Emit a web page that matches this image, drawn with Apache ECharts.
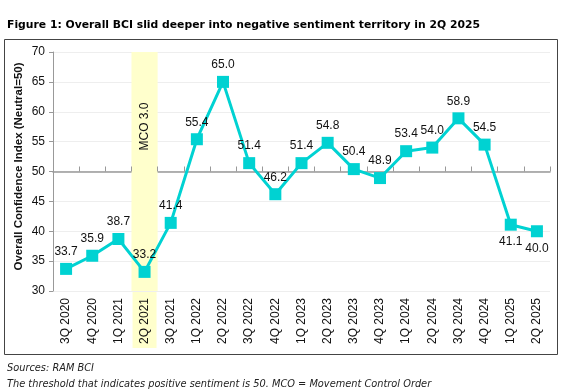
<!DOCTYPE html>
<html>
<head>
<meta charset="utf-8">
<script src="https://cdn.jsdelivr.net/npm/echarts@6/dist/echarts.min.js"></script>
<style>
html,body{margin:0;padding:0;background:#fff;}
#chart{width:569px;height:391px;}
</style>
</head>
<body>
<div id="chart"></div>
<script>
const categories = ['3Q 2020','4Q 2020','1Q 2021','2Q 2021','3Q 2021','1Q 2022','2Q 2022','3Q 2022','4Q 2022','1Q 2023','2Q 2023','3Q 2023','4Q 2023','1Q 2024','2Q 2024','3Q 2024','4Q 2024','1Q 2025','2Q 2025'];
const bciValues = [33.7, 35.9, 38.7, 33.2, 41.4, 55.4, 65.0, 51.4, 46.2, 51.4, 54.8, 50.4, 48.9, 53.4, 54.0, 58.9, 54.5, 41.1, 40.0];
const yTicks = [30, 35, 40, 45, 50, 55, 60, 65, 70];
const neutralLevel = 50;
const mcoCategory = '2Q 2021';
const mcoLabel = 'MCO 3.0';
const labelsBelow = ['1Q 2025', '2Q 2025'];

const titleText = 'Figure 1: Overall BCI slid deeper into negative sentiment territory in 2Q 2025';
const yAxisTitle = 'Overall Confidence Index (Neutral=50)';
const note1 = 'Sources: RAM BCI';
const note2 = 'The threshold that indicates positive sentiment is 50. MCO = Movement Control Order';

const yMin = yTicks[0], yMax = yTicks[yTicks.length - 1], yStep = yTicks[1] - yTicks[0];
const chart = echarts.init(document.getElementById('chart'), null, {renderer: 'canvas'});

const lineData = bciValues.map((v, i) => ({
  value: v,
  label: { position: labelsBelow.includes(categories[i]) ? 'bottom' : 'top' }
}));
const mcoData = categories.map(c => c === mcoCategory ? yMax : null);

const option = {
  animation: false,
  backgroundColor: '#fff',
  title: [
    { text: titleText, left: 2, top: 15, textStyle: { fontFamily: 'DejaVu Sans', fontWeight: 'bold', fontSize: 10.8, color: '#000' } },
    { text: note1, left: 2, top: 358, textStyle: { fontFamily: 'DejaVu Sans', fontStyle: 'italic', fontWeight: 'normal', fontSize: 9.8, color: '#222' } },
    { text: note2, left: 2, top: 374, textStyle: { fontFamily: 'DejaVu Sans', fontStyle: 'italic', fontWeight: 'normal', fontSize: 9.8, color: '#222' } }
  ],
  graphic: [
    { type: 'rect', left: 2, top: 37, shape: { width: 553, height: 315 }, style: { fill: 'none', stroke: '#444', lineWidth: 1 }, z: 100 }
  ],
  grid: { left: 53, right: 19, top: 52, bottom: 100, containLabel: false },
  xAxis: [
    {
      type: 'category', data: categories, boundaryGap: true,
      axisLine: { show: false }, axisTick: { show: false },
      axisLabel: {
        rotate: 90, margin: 1, interval: 0,
        formatter: v => v === mcoCategory ? '{hl|' + v + '}' : '{n|' + v + '}',
        rich: {
          n: { fontFamily: 'Liberation Sans', fontSize: 12, color: '#111', lineHeight: 14, padding: [6, 6, 6, 4] },
          hl: { fontFamily: 'Liberation Sans', fontSize: 12, color: '#111', lineHeight: 14, padding: [6, 6, 6, 4], backgroundColor: '#FFFFCC' }
        }
      },
      splitLine: { show: false }
    },
    {
      type: 'category', data: categories, boundaryGap: true,
      axisLine: { show: true, onZero: true, onZeroAxisIndex: 1, lineStyle: { color: '#999', width: 1.5 } },
      axisTick: { show: true, length: 5, interval: 0, lineStyle: { color: '#999' } },
      axisLabel: { show: false }, splitLine: { show: false }
    }
  ],
  yAxis: [
    {
      type: 'value', min: yMin, max: yMax, interval: yStep,
      name: yAxisTitle, nameLocation: 'middle', nameGap: 28, nameMoveOverlap: false,
      nameTextStyle: { fontFamily: 'Liberation Sans', fontWeight: 'bold', fontSize: 11.5, color: '#111', padding: [0, 0, 0, 10] },
      axisLine: { show: true, lineStyle: { color: '#999' } },
      axisTick: { show: true, length: 4, lineStyle: { color: '#999' } },
      axisLabel: { fontFamily: 'Liberation Sans', fontSize: 12, color: '#111', margin: 8 },
      splitLine: { show: true, lineStyle: { color: '#eeeeee', width: 1 } }
    },
    { type: 'value', min: yMin - neutralLevel, max: yMax - neutralLevel, show: false }
  ],
  series: [
    {
      type: 'bar', xAxisIndex: 0, yAxisIndex: 0, data: mcoData, barWidth: '100%', barGap: '-100%',
      itemStyle: { color: '#FFFFCC' }, z: 0, silent: true,
      label: { show: true, formatter: mcoLabel, position: 'inside', rotate: 90, offset: [45, 0],
               fontFamily: 'Liberation Sans', fontSize: 12, color: '#111' }
    },
    {
      type: 'line', xAxisIndex: 0, yAxisIndex: 0, data: lineData, z: 5,
      symbol: 'rect', symbolSize: 12,
      lineStyle: { color: '#00D2D2', width: 3 },
      itemStyle: { color: '#00D2D2' },
      label: { show: true, distance: 5, formatter: p => p.value.toFixed(1),
               fontFamily: 'Liberation Sans', fontSize: 12, color: '#111' }
    }
  ]
};
chart.setOption(option);
</script>
</body>
</html>
